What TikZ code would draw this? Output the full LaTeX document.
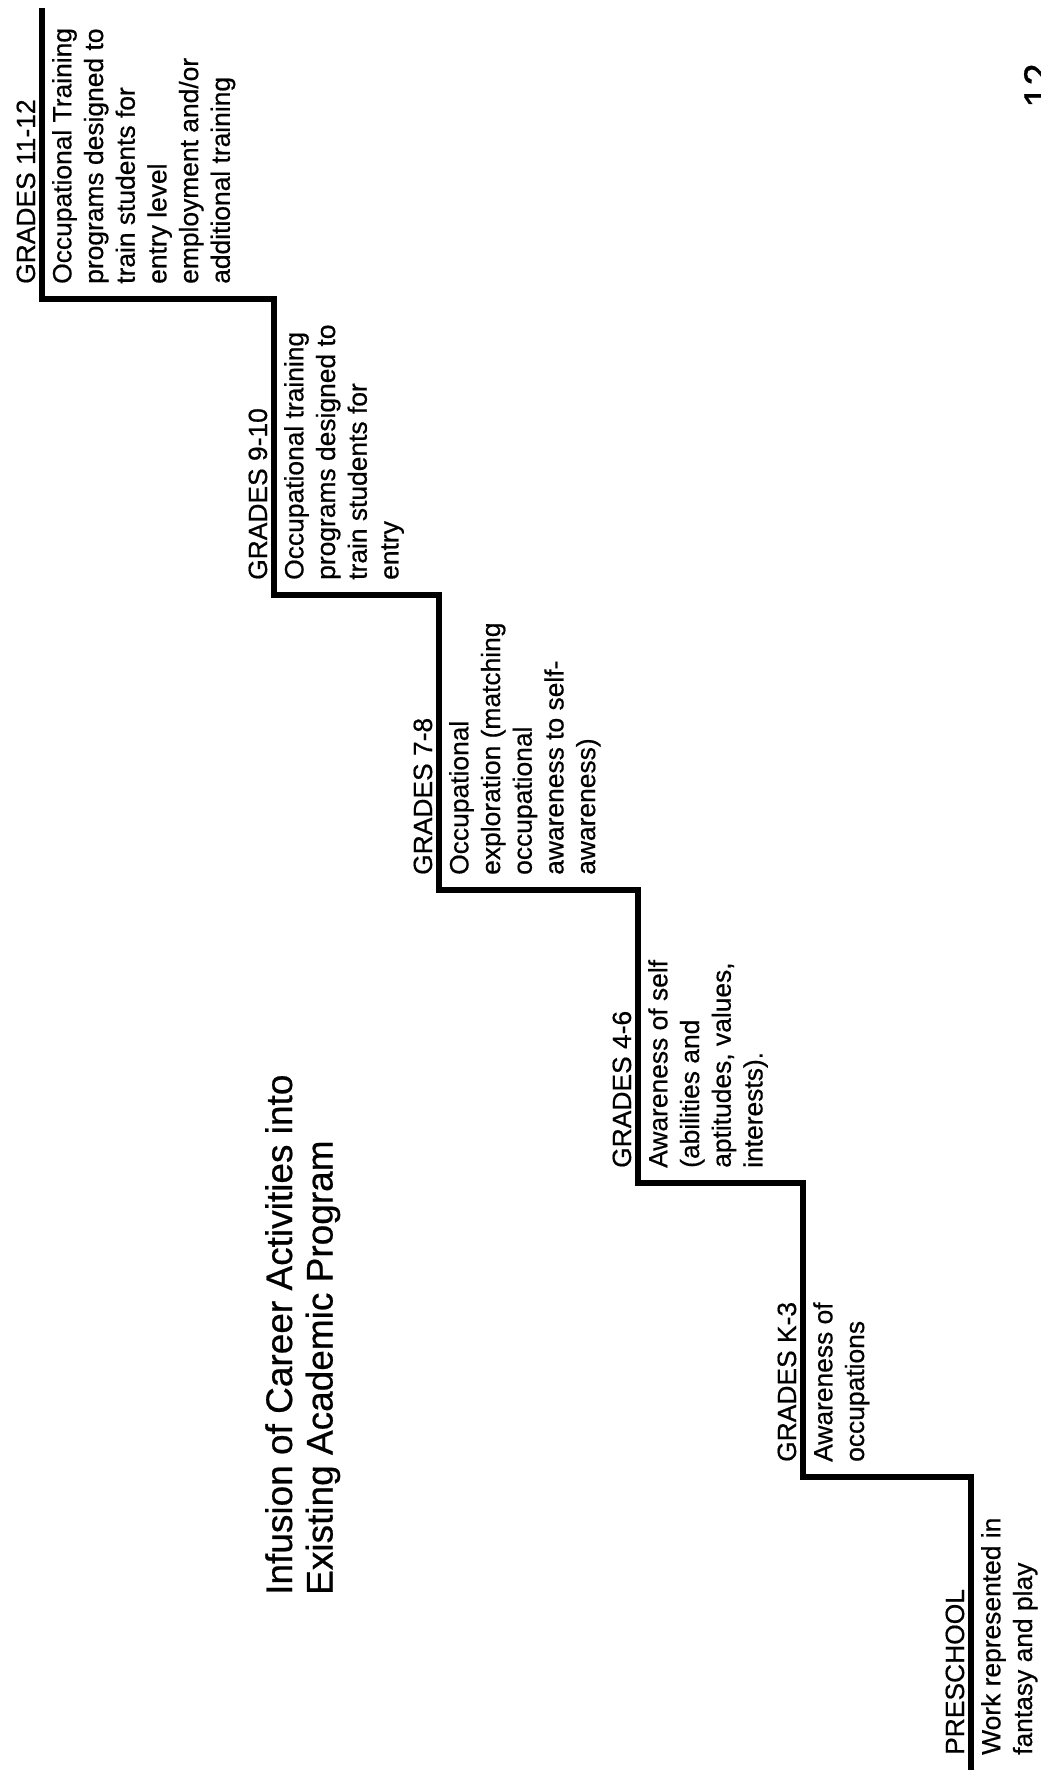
\documentclass[tikz,border=0pt]{standalone}
\usepackage{fontspec}
\setmainfont{Liberation Sans}[FakeBold=0.6]
\begin{document}
\begin{tikzpicture}[x=1pt,y=-1pt,
  stair/.style={line width=6pt, line join=miter, line cap=butt},
  head/.style={rotate=90, anchor=base west, inner sep=0pt, font=\fontsize{26.4pt}{31.7pt}\selectfont},
  body/.style={rotate=90, anchor=north west, inner sep=0pt, align=left, font=\fontsize{26.4pt}{31.7pt}\selectfont},
  titletext/.style={rotate=90, anchor=north west, inner sep=0pt, align=left, font=\fontsize{37pt}{40.5pt}\selectfont},
  pagenum/.style={rotate=90, anchor=base west, inner sep=0pt, font=\fontsize{40pt}{48pt}\selectfont}]
\useasboundingbox (0,0) rectangle (1041,1770);
\clip (0,0) rectangle (1041,1770);

% staircase corners
\coordinate (c0) at (42,8);
\coordinate (c1) at (42,299);
\coordinate (c2) at (274,299);
\coordinate (c3) at (274,595);
\coordinate (c4) at (439,595);
\coordinate (c5) at (439,890);
\coordinate (c6) at (638,890);
\coordinate (c7) at (638,1183);
\coordinate (c8) at (803,1183);
\coordinate (c9) at (803,1477);
\coordinate (c10) at (971,1477);
\coordinate (c11) at (971,1785);
\draw[stair] (c0) -- (c1) -- (c2) -- (c3) -- (c4) -- (c5) -- (c6) -- (c7) -- (c8) -- (c9) -- (c10) -- (c11);

% title
\node[titletext] (title) at (265,1595) {Infusion of Career Activities into\\Existing Academic Program};

% GRADES 11-12
\node[head] (h1112) at (35,284) {GRADES 11-12};
\node[body] (b1112) at (52,284) {Occupational Training\\programs designed to\\train students for\\entry level\\employment and/or\\additional training};

% GRADES 9-10
\node[head] (h910) at (267,580) {GRADES 9-10};
\node[body] (b910) at (284,580) {Occupational training\\programs designed to\\train students for\\entry};

% GRADES 7-8
\node[head] (h78) at (432,875) {GRADES 7-8};
\node[body] (b78) at (449,875) {Occupational\\exploration (matching\\occupational\\awareness to self-\\awareness)};

% GRADES 4-6
\node[head] (h46) at (631,1168) {GRADES 4-6};
\node[body] (b46) at (648,1168) {Awareness of self\\(abilities and\\aptitudes, values,\\interests).};

% GRADES K-3
\node[head] (hk3) at (796,1462) {GRADES K-3};
\node[body] (bk3) at (813,1462) {Awareness of\\occupations};

% PRESCHOOL
\node[head] (hpre) at (964,1755) {PRESCHOOL};
\node[body] (bpre) at (981,1755) {Work represented in\\fantasy and play};

% page number (cut by page edge, as in the scan)
\node[pagenum] (pnum) at (1052,108) {12};
\end{tikzpicture}
\end{document}
